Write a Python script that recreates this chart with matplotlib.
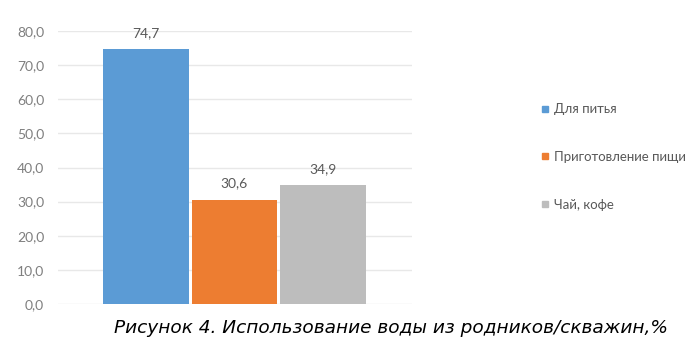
import matplotlib.pyplot as plt
from matplotlib.lines import Line2D

series = ["Для питья", "Приготовление пищи", "Чай, кофе"]
values = [74.7, 30.6, 34.9]
colors = ["#5B9BD5", "#ED7D31", "#BDBDBD"]
yticks = [0, 10, 20, 30, 40, 50, 60, 70, 80]
caption = "Рисунок 4. Использование воды из родников/скважин,%"

plt.rcParams['font.family'] = ['Lato', 'DejaVu Sans']

fig = plt.figure(figsize=(6.97, 3.46), dpi=100)
ax = fig.add_axes([58 / 697, 1 - 304 / 346, 354 / 697, 273 / 346])

pos = [-1, 0, 1]
for p, v, c in zip(pos, values, colors):
	ax.bar(p, v, width=0.97, color=c, zorder=2)
	ax.text(p, v + 3.0, f"{v:.1f}".replace(".", ","), ha="center", va="bottom",
			fontsize=10, color="#595959")

ax.set_xlim(-1.994, 2.006)
ax.set_ylim(0, 80)
ax.set_yticks(yticks)
ax.set_yticklabels([f"{t:.1f}".replace(".", ",") for t in yticks], fontsize=10, color="#7F7F7F")
ax.set_xticks([])
ax.tick_params(axis="y", length=0, pad=10)
ax.grid(axis="y", color="#E8E8E8", linewidth=1, zorder=0)
for s in ax.spines.values():
	s.set_visible(False)

handles = [Line2D([], [], marker="s", linestyle="none", markersize=5, color=c) for c in colors]
fig.legend(handles, series, loc="center left", bbox_to_anchor=(529 / 697, 1 - 157 / 346),
		   frameon=False, fontsize=9.5, labelspacing=2.7, handlelength=0.6,
		   handletextpad=0.4, labelcolor="#595959")

fig.text(391 / 697, 1 - 328 / 346, caption, ha="center", va="center",
		 fontsize=13.3, style="italic", family="DejaVu Sans", color="black")

fig.savefig("out.png", dpi=100)
